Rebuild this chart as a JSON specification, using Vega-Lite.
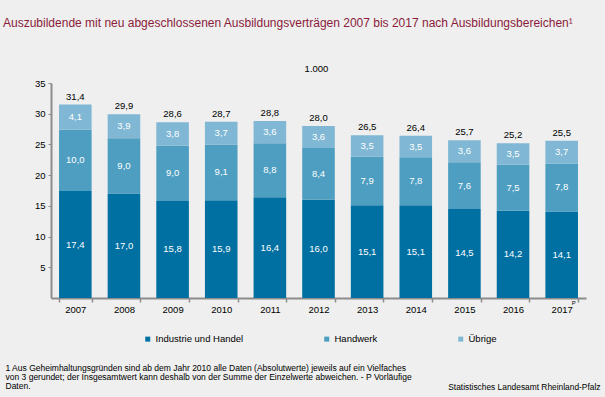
{
  "$schema": "https://vega.github.io/schema/vega-lite/v6.json",
  "width": 535,
  "height": 215,
  "autosize": {"type": "none"},
  "padding": {"left": 51, "top": 83, "right": 19, "bottom": 99},
  "background": "#eeefee",
  "title": {
    "text": "Auszubildende mit neu abgeschlossenen Ausbildungsverträgen 2007 bis 2017 nach Ausbildungsbereichen¹",
    "anchor": "start",
    "frame": "group",
    "dx": -48,
    "offset": 33,
    "fontSize": 12,
    "fontWeight": "normal",
    "color": "#8b1c3c",
    "font": "Liberation Sans"
  },
  "datasets": {
    "parts": [
      {"year": 2007, "category": "Industrie und Handel", "value": 17.4},
      {"year": 2007, "category": "Handwerk", "value": 10.0},
      {"year": 2007, "category": "Übrige", "value": 4.1},
      {"year": 2008, "category": "Industrie und Handel", "value": 17.0},
      {"year": 2008, "category": "Handwerk", "value": 9.0},
      {"year": 2008, "category": "Übrige", "value": 3.9},
      {"year": 2009, "category": "Industrie und Handel", "value": 15.8},
      {"year": 2009, "category": "Handwerk", "value": 9.0},
      {"year": 2009, "category": "Übrige", "value": 3.8},
      {"year": 2010, "category": "Industrie und Handel", "value": 15.9},
      {"year": 2010, "category": "Handwerk", "value": 9.1},
      {"year": 2010, "category": "Übrige", "value": 3.7},
      {"year": 2011, "category": "Industrie und Handel", "value": 16.4},
      {"year": 2011, "category": "Handwerk", "value": 8.8},
      {"year": 2011, "category": "Übrige", "value": 3.6},
      {"year": 2012, "category": "Industrie und Handel", "value": 16.0},
      {"year": 2012, "category": "Handwerk", "value": 8.4},
      {"year": 2012, "category": "Übrige", "value": 3.6},
      {"year": 2013, "category": "Industrie und Handel", "value": 15.1},
      {"year": 2013, "category": "Handwerk", "value": 7.9},
      {"year": 2013, "category": "Übrige", "value": 3.5},
      {"year": 2014, "category": "Industrie und Handel", "value": 15.1},
      {"year": 2014, "category": "Handwerk", "value": 7.8},
      {"year": 2014, "category": "Übrige", "value": 3.5},
      {"year": 2015, "category": "Industrie und Handel", "value": 14.5},
      {"year": 2015, "category": "Handwerk", "value": 7.6},
      {"year": 2015, "category": "Übrige", "value": 3.6},
      {"year": 2016, "category": "Industrie und Handel", "value": 14.2},
      {"year": 2016, "category": "Handwerk", "value": 7.5},
      {"year": 2016, "category": "Übrige", "value": 3.5},
      {"year": 2017, "category": "Industrie und Handel", "value": 14.1},
      {"year": 2017, "category": "Handwerk", "value": 7.8},
      {"year": 2017, "category": "Übrige", "value": 3.7}
    ],
    "totals": [
      {"year": 2007, "total": 31.4},
      {"year": 2008, "total": 29.9},
      {"year": 2009, "total": 28.6},
      {"year": 2010, "total": 28.7},
      {"year": 2011, "total": 28.8},
      {"year": 2012, "total": 28.0},
      {"year": 2013, "total": 26.5},
      {"year": 2014, "total": 26.4},
      {"year": 2015, "total": 25.7},
      {"year": 2016, "total": 25.2},
      {"year": 2017, "total": 25.5}
    ],
    "notes": [
      {"year": 2017, "note": "P"}
    ]
  },
  "encoding": {
    "x": {
      "field": "year",
      "type": "ordinal",
      "scale": {"paddingInner": 0.33, "paddingOuter": 0.165},
      "axis": {
        "labelAngle": 0,
        "labelFontSize": 9.5,
        "labelColor": "black",
        "labelFont": "Liberation Sans",
        "domainColor": "#8c8c8c",
        "domainWidth": 2,
        "tickColor": "#8c8c8c",
        "tickBand": "extent",
        "tickSize": 4,
        "tickWidth": 1.5,
        "labelPadding": 2,
        "title": [
          "1  Aus Geheimhaltungsgründen sind ab dem Jahr 2010 alle Daten (Absolutwerte) jeweils auf ein Vielfaches",
          "von 3 gerundet; der Insgesamtwert kann deshalb von der Summe der Einzelwerte abweichen. - P Vorläufige",
          "Daten."
        ],
        "titleX": -46,
        "titleY": 65,
        "titleAlign": "left",
        "titleBaseline": "top",
        "titleFontSize": 8.5,
        "titleFontWeight": "normal",
        "titleLineHeight": 9,
        "titleColor": "black",
        "titleFont": "Liberation Sans"
      }
    }
  },
  "layer": [
    {
      "data": {"name": "parts"},
      "mark": {"type": "bar"},
      "encoding": {
        "y": {
          "field": "value",
          "type": "quantitative",
          "stack": "zero",
          "scale": {"domain": [0, 35], "nice": false},
          "axis": {
            "values": [5, 10, 15, 20, 25, 30, 35],
            "grid": false,
            "domainColor": "#8c8c8c",
            "domainWidth": 2,
            "tickColor": "#8c8c8c",
            "tickSize": 3,
            "labelFontSize": 9.5,
            "labelColor": "black",
            "labelFont": "Liberation Sans",
            "labelPadding": 3,
            "title": "1.000",
            "titleAngle": 0,
            "titleX": 265,
            "titleY": -15,
            "titleAlign": "center",
            "titleBaseline": "middle",
            "titleFontWeight": "normal",
            "titleFontSize": 9.5,
            "titleColor": "black",
            "titleFont": "Liberation Sans"
          }
        },
        "order": {"field": "value", "sort": "descending"},
        "color": {
          "field": "category",
          "type": "nominal",
          "scale": {
            "domain": ["Industrie und Handel", "Handwerk", "Übrige"],
            "range": ["#0070a2", "#4d9ec1", "#80b7d4"]
          },
          "legend": {
            "orient": "none",
            "legendX": 92,
            "legendY": 251,
            "direction": "horizontal",
            "title": null,
            "symbolType": "square",
            "symbolSize": 25,
            "symbolStrokeWidth": 0,
            "labelFontSize": 9.5,
            "labelColor": "black",
            "labelFont": "Liberation Sans",
            "columnPadding": 78,
            "labelOffset": 3
          }
        }
      }
    },
    {
      "data": {"name": "parts"},
      "transform": [
        {"stack": "value", "groupby": ["year"], "sort": [{"field": "value", "order": "descending"}], "as": ["y0", "y1"]},
        {"fold": ["y0", "y1"], "as": ["k", "pos"]},
        {"aggregate": [{"op": "mean", "field": "pos", "as": "mid"}], "groupby": ["year", "category", "value"]}
      ],
      "mark": {"type": "text", "fontSize": 9.5, "font": "Liberation Sans", "baseline": "middle", "color": "white"},
      "encoding": {
        "y": {"field": "mid", "type": "quantitative", "axis": null},
        "text": {"field": "value", "type": "quantitative", "format": ".1f"}
      }
    },
    {
      "data": {"name": "totals"},
      "mark": {"type": "text", "fontSize": 9.5, "font": "Liberation Sans", "baseline": "bottom", "dy": -3, "color": "black"},
      "encoding": {
        "y": {
          "field": "total",
          "type": "quantitative",
          "axis": {
            "orient": "right",
            "labels": false,
            "ticks": false,
            "domain": false,
            "grid": false,
            "title": "Statistisches Landesamt Rheinland-Pfalz",
            "titleAngle": 0,
            "titleX": 14,
            "titleY": 303,
            "titleAlign": "right",
            "titleBaseline": "middle",
            "titleFontSize": 8.4,
            "titleFontWeight": "normal",
            "titleColor": "black",
            "titleFont": "Liberation Sans"
          }
        },
        "text": {"field": "total", "type": "quantitative", "format": ".1f"}
      }
    },
    {
      "data": {"name": "notes"},
      "mark": {"type": "text", "fontSize": 6, "font": "Liberation Sans", "dx": 12, "dy": 5, "color": "black"},
      "encoding": {
        "y": {"datum": 0, "type": "quantitative", "axis": null},
        "text": {"field": "note"}
      }
    }
  ],
  "resolve": {"axis": {"y": "independent"}},
  "config": {
    "view": {"stroke": null},
    "font": "Liberation Sans",
    "locale": {"number": {"decimal": ",", "thousands": ".", "grouping": [3], "currency": ["", " €"]}}
  }
}
